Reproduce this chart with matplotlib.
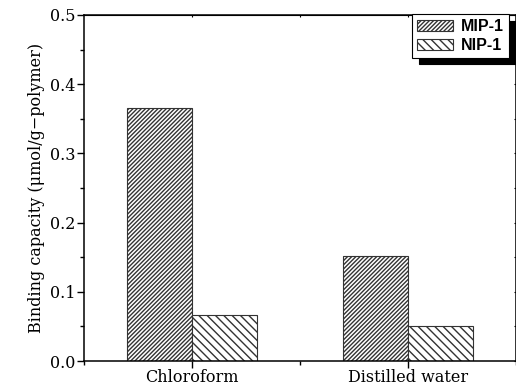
import numpy as np
import matplotlib
matplotlib.use("Agg")
import matplotlib.pyplot as plt
from matplotlib.ticker import MultipleLocator, FormatStrFormatter

# data
solvents = ["Chloroform", "Distilled water"]
mip_values = [0.366, 0.152]
nip_values = [0.066, 0.051]
series_labels = ["MIP-1", "NIP-1"]

plt.rcParams["font.family"] = ["DejaVu Serif"]
plt.rcParams["hatch.linewidth"] = 1.0

fig = plt.figure(figsize=(5.16, 3.87), dpi=100)
ax = fig.add_axes([84 / 516, 26 / 387, 432 / 516, 346 / 387])

x = np.arange(1, len(solvents) + 1)
width = 0.3
ax.bar(x - width / 2, mip_values, width, facecolor="white", edgecolor="#333333",
       linewidth=0.8, hatch="////////", label=series_labels[0])
ax.bar(x + width / 2, nip_values, width, facecolor="white", edgecolor="#333333",
       linewidth=0.8, hatch="\\\\\\\\", label=series_labels[1])

ax.set_xlim(0.5, 2.5)
ax.set_ylim(0, 0.5)
ax.set_xticks(x)
ax.set_xticklabels(solvents, fontsize=11.5)
ax.xaxis.set_minor_locator(MultipleLocator(0.5))
ax.yaxis.set_major_locator(MultipleLocator(0.1))
ax.yaxis.set_minor_locator(MultipleLocator(0.05))
ax.yaxis.set_major_formatter(FormatStrFormatter("%.1f"))
ax.tick_params(axis="both", which="major", direction="out", length=5, width=1,
               labelsize=11.5, pad=1)
ax.tick_params(axis="both", which="minor", direction="out", length=3, width=1)
for sp in ax.spines.values():
    sp.set_linewidth(1.1)

# tiny inward marks on the top and right spines
top = ax.secondary_xaxis("top")
top.set_xticks(list(x) + [1.5])
top.tick_params(direction="in", length=1.5, labeltop=False)
right = ax.secondary_yaxis("right")
right.yaxis.set_major_locator(MultipleLocator(0.05))
right.tick_params(direction="in", length=1.5, labelright=False)

ax.set_ylabel("Binding capacity (\u03bcmol/g\u2212polymer)", fontsize=11.5, labelpad=4)

leg = ax.legend(loc="upper right", bbox_to_anchor=(0.984, 1.003), borderaxespad=0,
                fancybox=False, edgecolor="black", framealpha=1,
                prop={"family": "Liberation Sans", "weight": "bold", "size": 11.5},
                handlelength=2.3, handleheight=0.7, labelspacing=0.25,
                handletextpad=0.5, borderpad=0.3,
                shadow={"ox": 5, "oy": -5, "facecolor": "black",
                        "edgecolor": "black", "alpha": 1})
leg.get_frame().set_linewidth(0.8)

fig.savefig("out.png", dpi=100)
